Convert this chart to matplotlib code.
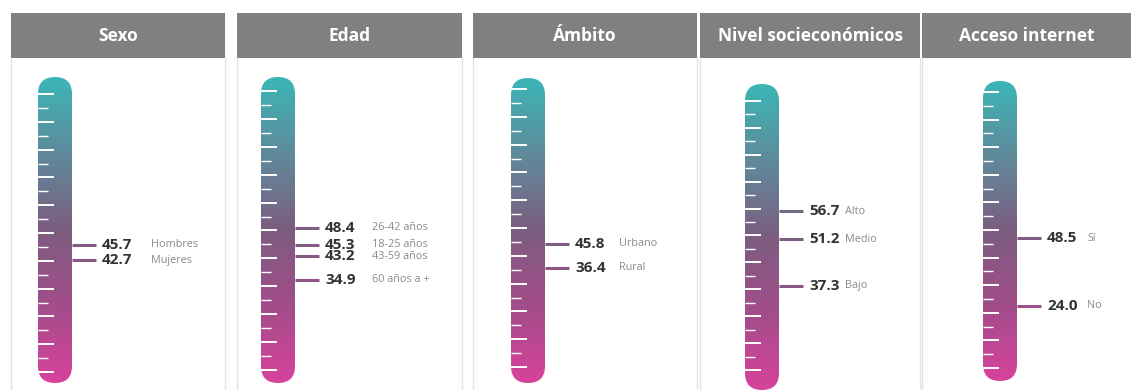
import numpy as np
import matplotlib.pyplot as plt
from matplotlib.colors import LinearSegmentedColormap
from matplotlib.patches import FancyBboxPatch, Rectangle
from matplotlib.transforms import offset_copy

plt.rcParams['font.family'] = ['Open Sans', 'DejaVu Sans']

# ---- data ----
titles = ['Sexo', 'Edad', 'Ámbito', 'Nivel socieconómicos', 'Acceso internet']
sexo_labels = ['Hombres', 'Mujeres']
sexo_values = [45.7, 42.7]
edad_labels = ['26-42 años', '18-25 años', '43-59 años', '60 años a +']
edad_values = [48.4, 45.3, 43.2, 34.9]
ambito_labels = ['Urbano', 'Rural']
ambito_values = [45.8, 36.4]
nivel_labels = ['Alto', 'Medio', 'Bajo']
nivel_values = [56.7, 51.2, 37.3]
internet_labels = ['Sí', 'No']
internet_values = [48.5, 24.0]

all_labels = [sexo_labels, edad_labels, ambito_labels, nivel_labels, internet_labels]
all_values = [sexo_values, edad_values, ambito_values, nivel_values, internet_values]

# ---- layout (pixels) ----
W, H = 1131, 390
header_x = [(11, 225), (237, 462), (473, 697), (700, 920), (922, 1131)]
tube_x = [38, 261, 511, 745, 983]
tube_w = 34
tube_y = [(77, 383), (77, 383), (78, 383), (84, 390), (81, 381)]
tick_y = [(94, 372), (91, 370), (89, 367), (101, 370), (92, 368)]   # (100, 0)
label_off = [79, 77, 74, 66, 70]
# small vertical shifts (px, down) so the callouts don't collide
spread = [[0, 7], [-7, 1, 7, 7], [4, 2], [-6, 7, 16], [4, 4]]

cmap = LinearSegmentedColormap.from_list(
    'thermo', ['#d8429c', '#a24d8a', '#7c5d80', '#5f8a9b', '#3cb6b7'])

fig = plt.figure(figsize=(W / 100, H / 100), dpi=100)
bg = fig.add_axes([0, 0, 1, 1])
bg.set_xlim(0, W)
bg.set_ylim(H, 0)
bg.axis('off')

for i, title in enumerate(titles):
    x0, x1 = header_x[i]
    bg.add_patch(Rectangle((x0, 13), x1 - x0, 45, facecolor='#808080', edgecolor='none'))
    bg.text((x0 + x1) / 2, 36, title, color='white', fontsize=12.5, fontweight='bold',
            ha='center', va='center')
    bg.plot([x0, x0], [58, H], color='#e4e4e4', lw=1)
    bg.plot([x1, x1], [58, H], color='#e4e4e4', lw=1)

    # thermometer axes: x in pixels, y in value units (0..100)
    t_top, t_bot = tube_y[i]
    y100, y0 = tick_y[i]
    k = (y0 - y100) / 100.0
    vbot = (y0 - t_bot) / k
    vtop = (y0 - t_top) / k
    tx0 = tube_x[i]
    tx1 = tx0 + tube_w
    left_px, right_px = tx0 - 4, x1 - 2
    ax = fig.add_axes([left_px / W, 1 - t_bot / H, (right_px - left_px) / W, (t_bot - t_top) / H])
    ax.set_xlim(left_px, right_px)
    ax.set_ylim(vbot, vtop)
    ax.axis('off')

    tube = FancyBboxPatch((tx0, vbot), tube_w, vtop - vbot,
                          boxstyle=f'round,pad=0,rounding_size={tube_w / 2}',
                          mutation_aspect=1 / k, facecolor='none', edgecolor='none')
    ax.add_patch(tube)
    grad = np.linspace(0, 1, 256).reshape(-1, 1)
    im = ax.imshow(grad, cmap=cmap, origin='lower', aspect='auto',
                   extent=(tx0, tx1, vbot, vtop), interpolation='bicubic')
    im.set_clip_path(tube)

    for v in range(0, 101, 5):
        long_tick = v % 10 == 0
        ax.plot([tx0, tx0 + (16 if long_tick else 10)], [v, v], color='white',
                lw=1.4 if long_tick else 1.0, solid_capstyle='butt')

    for j, (lab, val) in enumerate(zip(all_labels[i], all_values[i])):
        c = cmap((val - vbot) / (vtop - vbot))
        tr = offset_copy(ax.transData, fig=fig, x=0, y=-spread[i][j], units='dots')
        ax.plot([tx1, tx1 + 24], [val, val], color=c, lw=2.2, solid_capstyle='butt',
                transform=tr)
        ax.text(tx1 + 30, val, f'{val:.1f}', transform=tr, fontsize=11,
                fontweight='bold', color='#333333', va='center', ha='left')
        ax.text(tx1 + label_off[i], val, lab, transform=tr, fontsize=7.8,
                color='#8a8a8a', va='center', ha='left')

fig.savefig('out.png', dpi=100, facecolor='white')
